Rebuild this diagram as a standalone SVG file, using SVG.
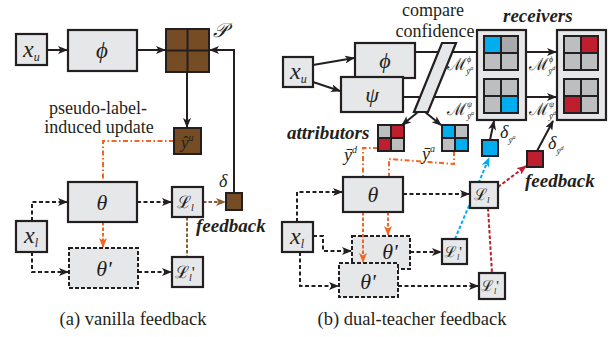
<svg xmlns="http://www.w3.org/2000/svg" width="613" height="337" viewBox="0 0 613 337">
  <style>
    .box { fill: #e6e7e8; stroke: #231f20; stroke-width: 2.2; }
    .dbox { fill: #e6e7e8; stroke: #231f20; stroke-width: 2; stroke-dasharray: 4 2; }
    .brown { fill: #754c24; stroke: #231f20; stroke-width: 2; }
    .cell { stroke: #231f20; stroke-width: 2; }
    .lg { fill: #bcbec0; }
    .dg { fill: #a7a9ac; }
    .bl { fill: #00aeef; }
    .rd { fill: #be1e2d; }
    .solid { fill: none; stroke: #231f20; stroke-width: 2; }
    .dash { fill: none; stroke: #231f20; stroke-width: 2; stroke-dasharray: 4 2.5; }
    .odd { fill: none; stroke: #f26522; stroke-width: 2; stroke-dasharray: 5 2.5 1.5 2.5; }
    .odash { fill: none; stroke: #f26522; stroke-width: 2; stroke-dasharray: 3.5 2; }
    .bdash { fill: none; stroke: #00aeef; stroke-width: 2; stroke-dasharray: 3.5 2; }
    .rdash { fill: none; stroke: #be1e2d; stroke-width: 2; stroke-dasharray: 3.5 2; }
    .ndash { fill: none; stroke: #8b5e34; stroke-width: 2; stroke-dasharray: 3.5 2; }
    text { font-family: "Liberation Serif", "DejaVu Serif", serif; fill: #231f20; }
    .m { font-style: italic; }
    .lbl { font-size: 18px; }
    .cap { font-size: 18.5px; }
    .em { font-size: 19px; font-weight: bold; font-style: italic; }
  </style>
  <defs>
    <marker id="ak" markerUnits="userSpaceOnUse" markerWidth="10" markerHeight="8" refX="9" refY="4" orient="auto">
      <path d="M0,0 L10,4 L0,8 L2.5,4 Z" fill="#231f20"/>
    </marker>
    <marker id="ao" markerUnits="userSpaceOnUse" markerWidth="10" markerHeight="8" refX="9" refY="4" orient="auto">
      <path d="M0,0 L10,4 L0,8 L2.5,4 Z" fill="#f26522"/>
    </marker>
    <marker id="ab" markerUnits="userSpaceOnUse" markerWidth="10" markerHeight="8" refX="9" refY="4" orient="auto">
      <path d="M0,0 L10,4 L0,8 L2.5,4 Z" fill="#00aeef"/>
    </marker>
    <marker id="ar" markerUnits="userSpaceOnUse" markerWidth="10" markerHeight="8" refX="9" refY="4" orient="auto">
      <path d="M0,0 L10,4 L0,8 L2.5,4 Z" fill="#be1e2d"/>
    </marker>
    <marker id="an" markerUnits="userSpaceOnUse" markerWidth="10" markerHeight="8" refX="9" refY="4" orient="auto">
      <path d="M0,0 L10,4 L0,8 L2.5,4 Z" fill="#8b5e34"/>
    </marker>
  </defs>

  <!-- back copy of the second student, drawn under the connectors -->
  <g id="b-theta-prime-1">
    <rect class="dbox" x="352" y="236" width="58" height="33"/>
    <text class="m" x="390" y="259" font-size="22" text-anchor="middle">θ'</text>
  </g>

  <g id="connectors">
    <!-- (a) vanilla feedback -->
    <line class="solid" x1="47" y1="50" x2="67" y2="50" marker-end="url(#ak)"/>
    <line class="solid" x1="137" y1="50" x2="165" y2="50" marker-end="url(#ak)"/>
    <line class="solid" x1="187" y1="72" x2="187" y2="127" marker-end="url(#ak)"/>
    <path class="solid" d="M234,193 V50 H210" marker-end="url(#ak)"/>
    <path class="odd" d="M174,141 H103 V182"/>
    <line class="odash" x1="103" y1="222" x2="103" y2="247" marker-end="url(#ao)"/>
    <path class="dash" d="M32,221 V202 H67" marker-end="url(#ak)"/>
    <path class="dash" d="M32,252 V272 H68" marker-end="url(#ak)"/>
    <line class="dash" x1="137" y1="202" x2="171" y2="202" marker-end="url(#ak)"/>
    <line class="dash" x1="138" y1="272" x2="171" y2="272" marker-end="url(#ak)"/>
    <line class="ndash" x1="203" y1="202" x2="225" y2="202" marker-end="url(#an)"/>
    <line class="ndash" x1="187" y1="217" x2="187" y2="257"/>

    <!-- (b) dual-teacher feedback: unlabeled branch -->
    <line class="solid" x1="313" y1="65" x2="354" y2="58" marker-end="url(#ak)"/>
    <line class="solid" x1="313" y1="82" x2="340" y2="91" marker-end="url(#ak)"/>
    <line class="solid" x1="415" y1="52" x2="477" y2="52"/>
    <line class="solid" x1="403" y1="97" x2="477" y2="97"/>
    <line class="solid" x1="526" y1="52" x2="556" y2="52" marker-end="url(#ak)"/>
    <line class="solid" x1="526" y1="97" x2="556" y2="97" marker-end="url(#ak)"/>
    <line class="solid" x1="418" y1="112" x2="402" y2="125" marker-end="url(#ak)"/>
    <line class="solid" x1="425" y1="112" x2="441" y2="125" marker-end="url(#ak)"/>
    <line class="solid" x1="490" y1="140" x2="494" y2="121" marker-end="url(#ak)"/>
    <line class="solid" x1="537" y1="151" x2="553" y2="121" marker-end="url(#ak)"/>

    <!-- (b) labeled branch -->
    <path class="dash" d="M297,222 V192 H342" marker-end="url(#ak)"/>
    <path class="dash" d="M313,236 H323 V251 H351" marker-end="url(#ak)"/>
    <path class="dash" d="M300,252 V286 H338" marker-end="url(#ak)"/>
    <line class="dash" x1="403" y1="194" x2="469" y2="194" marker-end="url(#ak)"/>
    <line class="dash" x1="410" y1="252" x2="441" y2="252" marker-end="url(#ak)"/>
    <line class="dash" x1="398" y1="286" x2="478" y2="286" marker-end="url(#ak)"/>
    <line class="bdash" x1="455" y1="239" x2="489" y2="158" marker-end="url(#ab)"/>
    <line class="rdash" x1="498" y1="187" x2="526" y2="166" marker-end="url(#ar)"/>
    <line class="rdash" x1="488" y1="208" x2="492" y2="273"/>
    <path class="odd" d="M378,148 H363 V177"/>
    <path class="odd" d="M454,151 V164 L389,159 V177"/>
    <line class="odash" x1="363" y1="212" x2="363" y2="262" marker-end="url(#ao)"/>
    <line class="odash" x1="388" y1="212" x2="388" y2="235" marker-end="url(#ao)"/>
  </g>

  <!-- (a) vanilla feedback -->
  <g id="a-xu">
    <rect class="box" x="16" y="34" width="31" height="31"/>
    <text class="m" x="23" y="57" font-size="24">x<tspan font-size="12" dy="4">u</tspan></text>
  </g>
  <g id="a-phi">
    <rect class="box" x="68" y="30" width="69" height="41"/>
    <text class="m" x="102" y="58" font-size="23" text-anchor="middle">ϕ</text>
  </g>
  <g id="a-P">
    <rect class="brown" x="166" y="29" width="43" height="43"/>
    <line class="cell" x1="187.5" y1="29" x2="187.5" y2="72"/>
    <line class="cell" x1="166" y1="50.5" x2="209" y2="50.5"/>
    <text class="m" x="213" y="37" font-size="20">𝒫</text>
  </g>
  <g id="a-yhat">
    <rect class="brown" x="174" y="128" width="27" height="26"/>
    <text class="m" x="181" y="148" font-size="17">ŷ<tspan font-size="10" dy="-7">u</tspan></text>
  </g>
  <g id="a-theta">
    <rect class="box" x="68" y="182" width="69" height="40"/>
    <text class="m" x="102" y="210" font-size="22" text-anchor="middle">θ</text>
  </g>
  <g id="a-xl">
    <rect class="box" x="16" y="221" width="31" height="31"/>
    <text class="m" x="24" y="243" font-size="24">x<tspan font-size="12" dy="4">l</tspan></text>
  </g>
  <g id="a-theta-prime">
    <rect class="dbox" x="69" y="248" width="69" height="40"/>
    <text class="m" x="104" y="276" font-size="22" text-anchor="middle">θ'</text>
  </g>
  <g id="a-L">
    <rect class="box" x="172" y="187" width="31" height="30"/>
    <text x="177" y="208" font-size="17">ℒ<tspan class="m" font-size="10" dy="3">l</tspan></text>
  </g>
  <g id="a-L-prime">
    <rect class="box" x="172" y="257" width="31" height="30"/>
    <text x="175" y="278" font-size="17">ℒ<tspan class="m" font-size="10" dy="3">l</tspan><tspan font-size="17" dy="-3">'</tspan></text>
  </g>
  <g id="a-delta">
    <rect class="brown" x="226" y="193" width="16" height="17"/>
    <text class="m" x="219" y="187" font-size="18">δ</text>
  </g>
  <text class="lbl" x="98" y="114" text-anchor="middle">pseudo-label-</text>
  <text class="lbl" x="99" y="133" text-anchor="middle">induced update</text>
  <text class="em" x="196" y="232">feedback</text>
  <text class="cap" x="133" y="325" text-anchor="middle">(a) vanilla feedback</text>

  <!-- (b) dual-teacher feedback -->
  <g id="b-xu">
    <rect class="box" x="283" y="57" width="30" height="30"/>
    <text class="m" x="290" y="79" font-size="24">x<tspan font-size="12" dy="4">u</tspan></text>
  </g>
  <g id="b-phi">
    <rect class="box" x="355" y="43" width="60" height="35"/>
    <text class="m" x="385" y="68" font-size="22" text-anchor="middle">ϕ</text>
  </g>
  <g id="b-psi">
    <rect class="box" x="341" y="77" width="62" height="35"/>
    <text class="m" x="372" y="102" font-size="22" text-anchor="middle">ψ</text>
  </g>
  <g id="b-compare">
    <polygon class="box" points="442,43 456,43 428,112 414,112"/>
    <text class="lbl" x="433" y="16" text-anchor="middle">compare</text>
    <text class="lbl" x="435" y="37" text-anchor="middle">confidence</text>
  </g>
  <g id="b-receiver-a">
    <rect class="box" x="477" y="30" width="49" height="90"/>
    <rect class="cell bl" x="484" y="36" width="17" height="17"/>
    <rect class="cell dg" x="501" y="36" width="17" height="17"/>
    <rect class="cell lg" x="484" y="53" width="17" height="17"/>
    <rect class="cell lg" x="501" y="53" width="17" height="17"/>
    <rect class="cell lg" x="484" y="79" width="17" height="17"/>
    <rect class="cell lg" x="501" y="79" width="17" height="17"/>
    <rect class="cell lg" x="484" y="96" width="17" height="17"/>
    <rect class="cell bl" x="501" y="96" width="17" height="17"/>
  </g>
  <g id="b-receiver-d">
    <rect class="box" x="557" y="30" width="49" height="90"/>
    <rect class="cell lg" x="564" y="36" width="17" height="17"/>
    <rect class="cell rd" x="581" y="36" width="17" height="17"/>
    <rect class="cell lg" x="564" y="53" width="17" height="17"/>
    <rect class="cell lg" x="581" y="53" width="17" height="17"/>
    <rect class="cell lg" x="564" y="79" width="17" height="17"/>
    <rect class="cell lg" x="581" y="79" width="17" height="17"/>
    <rect class="cell rd" x="564" y="96" width="17" height="17"/>
    <rect class="cell lg" x="581" y="96" width="17" height="17"/>
  </g>
  <text class="em" x="503" y="22" font-size="20">receivers</text>
  <g id="b-M-labels">
    <text x="447" y="70" font-size="17">ℳ<tspan class="m" font-size="8" dy="-8">ϕ</tspan><tspan class="m" font-size="9" dx="-5" dy="12">ȳ</tspan><tspan class="m" font-size="6" dy="-4">a</tspan></text>
    <text x="447" y="115" font-size="17">ℳ<tspan class="m" font-size="8" dy="-8">ψ</tspan><tspan class="m" font-size="9" dx="-5" dy="12">ȳ</tspan><tspan class="m" font-size="6" dy="-4">a</tspan></text>
    <text x="529" y="70" font-size="17">ℳ<tspan class="m" font-size="8" dy="-8">ϕ</tspan><tspan class="m" font-size="9" dx="-5" dy="12">ȳ</tspan><tspan class="m" font-size="6" dy="-4">d</tspan></text>
    <text x="529" y="115" font-size="17">ℳ<tspan class="m" font-size="8" dy="-8">ψ</tspan><tspan class="m" font-size="9" dx="-5" dy="12">ȳ</tspan><tspan class="m" font-size="6" dy="-4">d</tspan></text>
  </g>
  <g id="b-attributor-d">
    <rect class="cell lg" x="378" y="125" width="13" height="13"/>
    <rect class="cell rd" x="391" y="125" width="13" height="13"/>
    <rect class="cell rd" x="378" y="138" width="13" height="13"/>
    <rect class="cell lg" x="391" y="138" width="13" height="13"/>
    <text class="m" x="344" y="161" font-size="18">ȳ<tspan font-size="10" dy="-8">d</tspan></text>
  </g>
  <g id="b-attributor-a">
    <rect class="cell bl" x="442" y="125" width="13" height="13"/>
    <rect class="cell lg" x="455" y="125" width="13" height="13"/>
    <rect class="cell lg" x="442" y="138" width="13" height="13"/>
    <rect class="cell bl" x="455" y="138" width="13" height="13"/>
    <text class="m" x="422" y="160" font-size="18">ȳ<tspan font-size="10" dy="-8">a</tspan></text>
  </g>
  <text class="em" x="287" y="139">attributors</text>
  <g id="b-delta-a">
    <rect class="cell bl" x="482" y="140" width="16" height="16"/>
    <text class="m" x="500" y="138" font-size="18">δ<tspan font-size="9" dy="5">ȳ</tspan><tspan font-size="6" dy="-4">a</tspan></text>
  </g>
  <g id="b-delta-d">
    <rect class="cell rd" x="527" y="151" width="16" height="16"/>
    <text class="m" x="548" y="149" font-size="18">δ<tspan font-size="9" dy="5">ȳ</tspan><tspan font-size="6" dy="-4">d</tspan></text>
  </g>
  <text class="em" x="525" y="187">feedback</text>
  <g id="b-theta">
    <rect class="box" x="343" y="177" width="60" height="35"/>
    <text class="m" x="373" y="202" font-size="22" text-anchor="middle">θ</text>
  </g>
  <g id="b-L">
    <rect class="box" x="470" y="182" width="28" height="26"/>
    <text x="474" y="200" font-size="16">ℒ<tspan class="m" font-size="9" dy="3">l</tspan></text>
  </g>
  <g id="b-xl">
    <rect class="box" x="282" y="222" width="31" height="30"/>
    <text class="m" x="290" y="244" font-size="24">x<tspan font-size="12" dy="4">l</tspan></text>
  </g>
  <g id="b-theta-prime-2">
    <rect class="dbox" x="339" y="263" width="59" height="34"/>
    <text class="m" x="368" y="289" font-size="22" text-anchor="middle">θ'</text>
  </g>
  <g id="b-L-prime-1">
    <rect class="box" x="442" y="239" width="25" height="25"/>
    <text x="444" y="257" font-size="15">ℒ<tspan class="m" font-size="8" dy="3">l</tspan><tspan font-size="15" dy="-3">'</tspan></text>
  </g>
  <g id="b-L-prime-2">
    <rect class="box" x="479" y="273" width="26" height="26"/>
    <text x="481" y="291" font-size="15">ℒ<tspan class="m" font-size="8" dy="3">l</tspan><tspan font-size="15" dy="-3">'</tspan></text>
  </g>
  <text class="cap" x="412" y="325" text-anchor="middle">(b) dual-teacher feedback</text>
</svg>
